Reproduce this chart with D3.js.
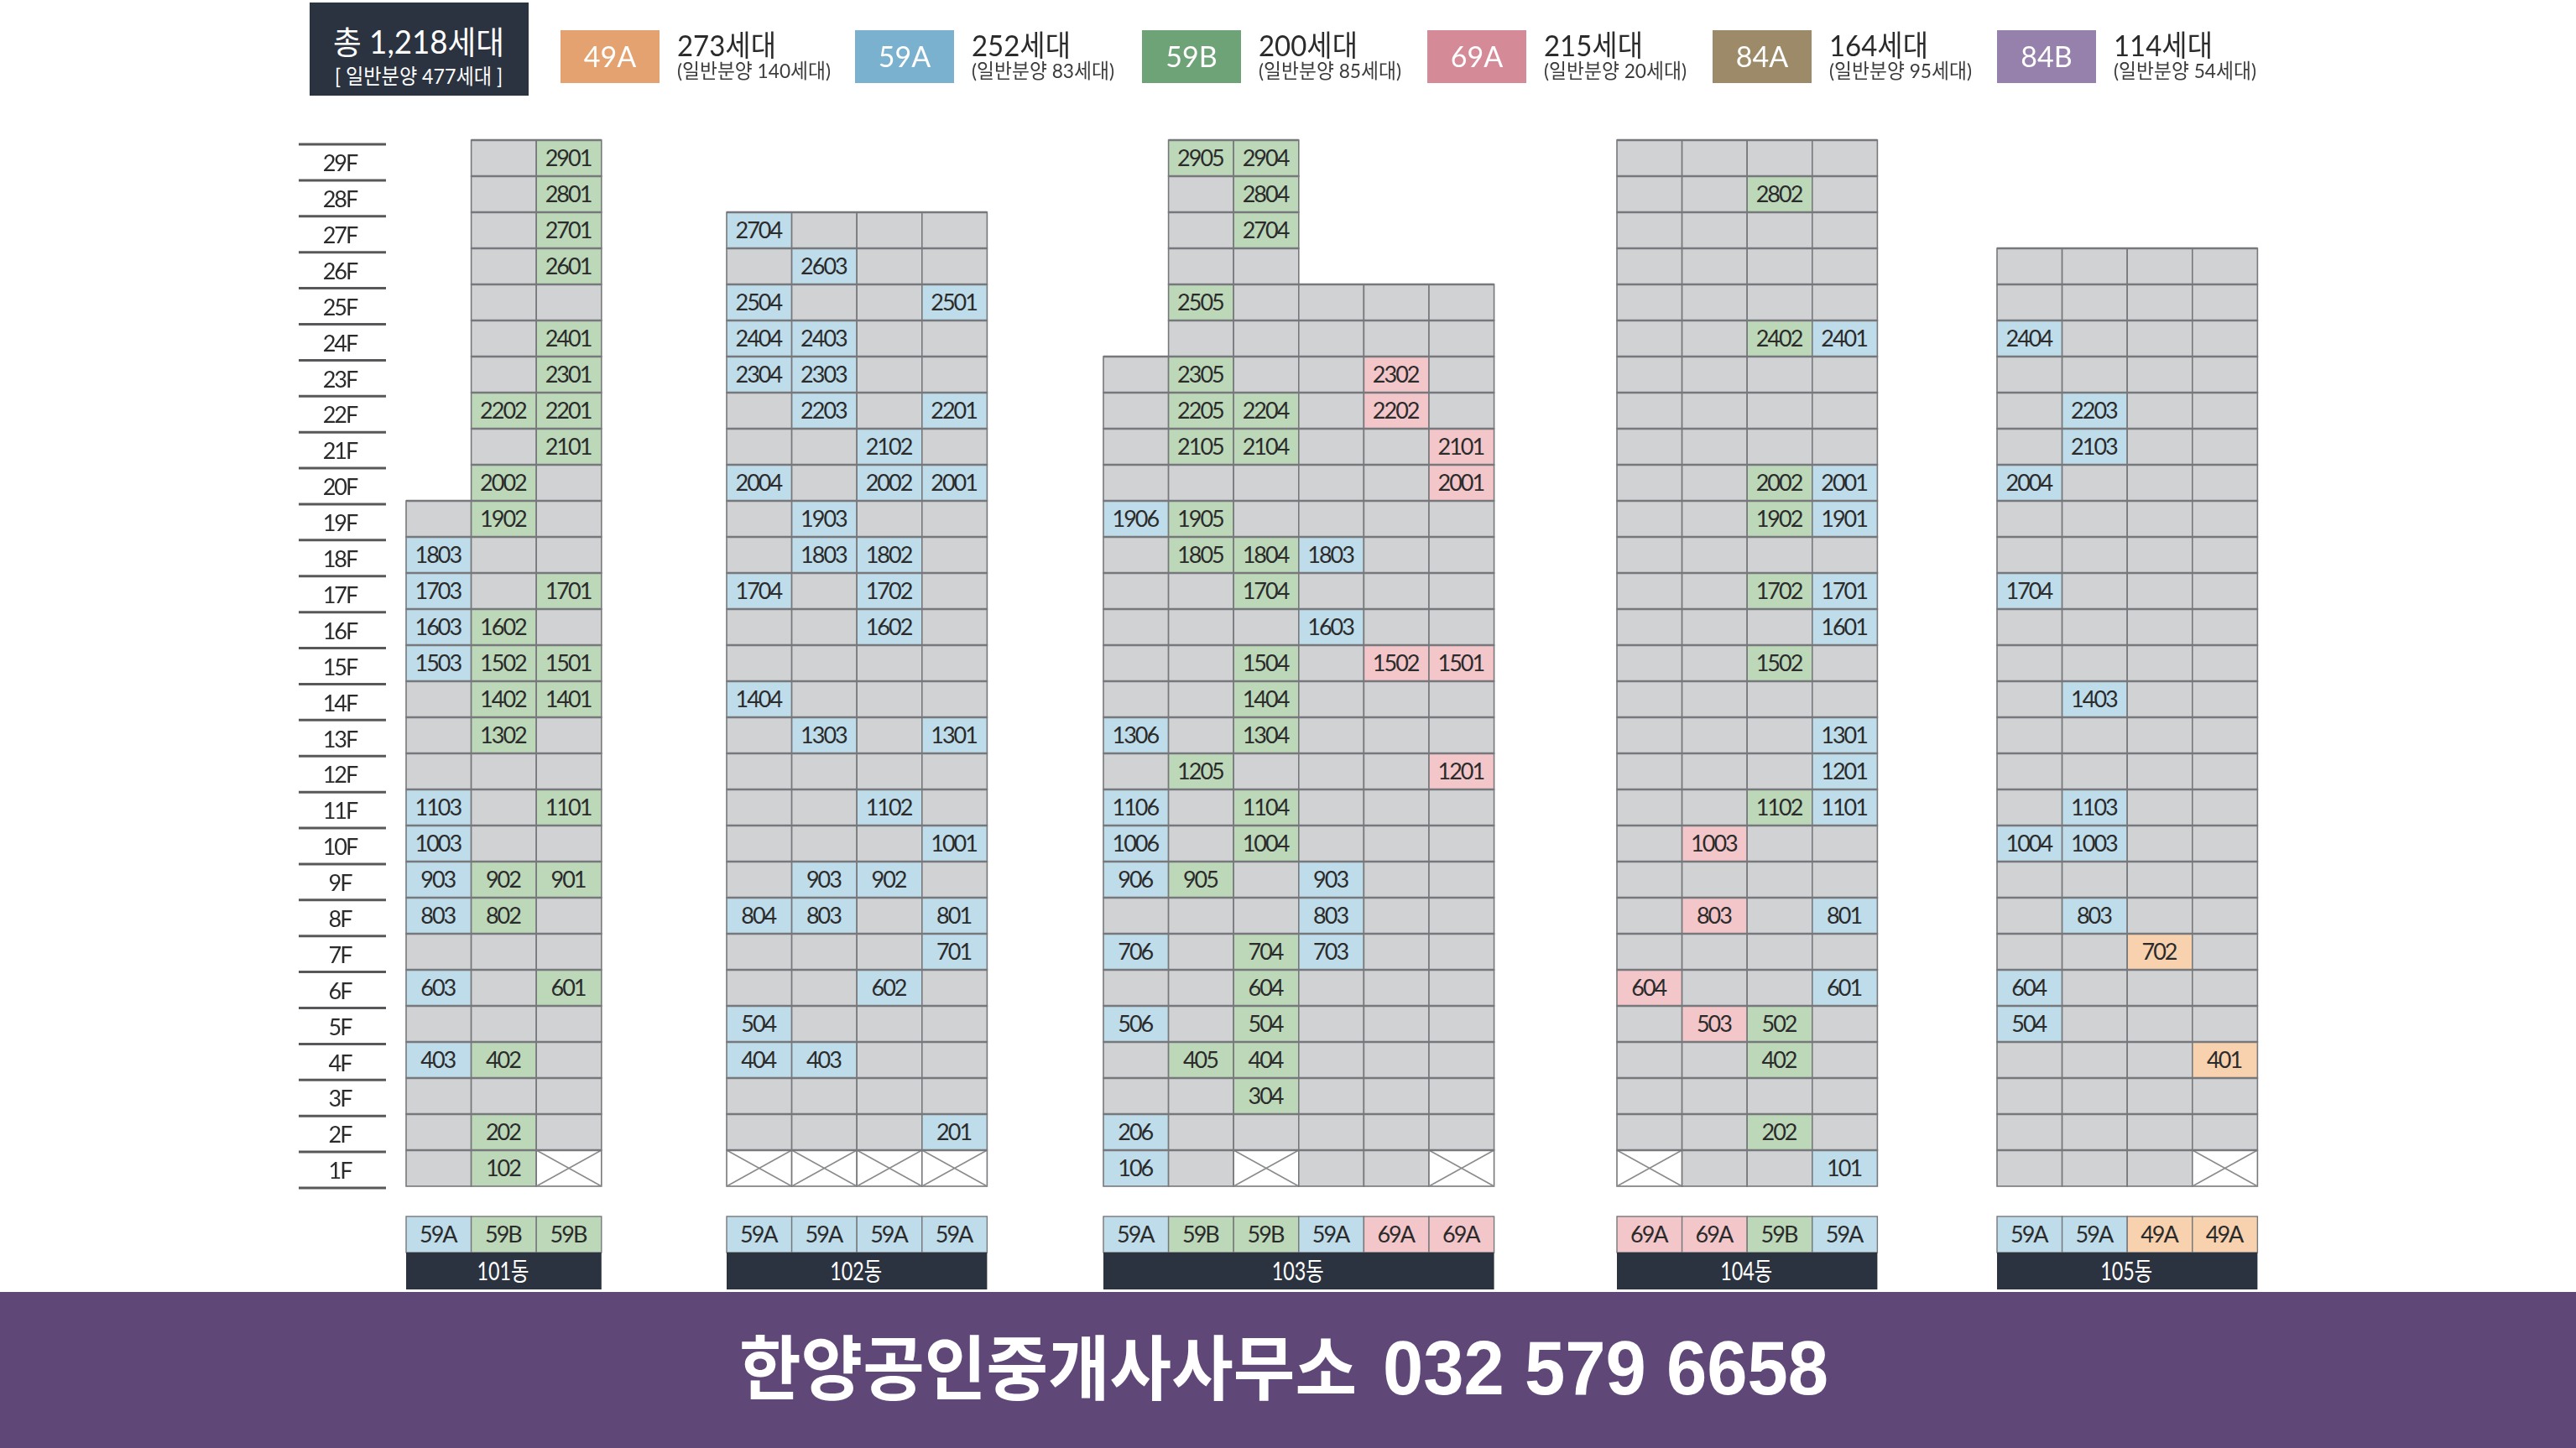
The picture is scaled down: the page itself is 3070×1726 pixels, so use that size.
<!DOCTYPE html>
<html lang="ko">
<head>
<meta charset="utf-8">
<title>동호 배치도</title>
<script src="https://cdn.jsdelivr.net/npm/d3@7"></script>
<style>
    html, body { margin: 0; padding: 0; background: #fff; }
    svg { display: block; }
    text { font-family: Lato, "Noto Sans CJK KR", sans-serif; fill: #2b2b2b; }
</style>
</head>
<body>
<div id="chart"></div>
<script>
// data
const floors = [29, 28, 27, 26, 25, 24, 23, 22, 21, 20, 19, 18, 17, 16, 15, 14, 13, 12, 11, 10, 9, 8, 7, 6, 5, 4, 3, 2, 1];

const legendTypes = ['49A', '59A', '59B', '69A', '84A', '84B'];
const legendCounts = ['273세대', '252세대', '200세대', '215세대', '164세대', '114세대'];
const legendSales = ['(일반분양 140세대)', '(일반분양 83세대)', '(일반분양 85세대)', '(일반분양 20세대)', '(일반분양 95세대)', '(일반분양 54세대)'];

const buildings = ['101동', '102동', '103동', '104동', '105동'];

// line number -> type, left to right as drawn
const lines101 = [3, 2, 1];
const types101 = ['59A', '59B', '59B'];
const tops101 = [19, 29, 29];
const blocked101 = [101];
const units101 = [2901, 2801, 2701, 2601, 2401, 2301, 2202, 2201, 2101, 2002, 1902, 1803, 1703, 1701, 1603, 1602, 1503, 1502, 1501, 1402, 1401, 1302, 1103, 1101, 1003, 903, 902, 901, 803, 802, 603, 601, 403, 402, 202, 102];

const lines102 = [4, 3, 2, 1];
const types102 = ['59A', '59A', '59A', '59A'];
const tops102 = [27, 27, 27, 27];
const blocked102 = [104, 103, 102, 101];
const units102 = [2704, 2603, 2504, 2501, 2404, 2403, 2304, 2303, 2203, 2201, 2102, 2004, 2002, 2001, 1903, 1803, 1802, 1704, 1702, 1602, 1404, 1303, 1301, 1102, 1001, 903, 902, 804, 803, 801, 701, 602, 504, 404, 403, 201];

const lines103 = [6, 5, 4, 3, 2, 1];
const types103 = ['59A', '59B', '59B', '59A', '69A', '69A'];
const tops103 = [23, 29, 29, 25, 25, 25];
const blocked103 = [104, 101];
const units103 = [2905, 2904, 2804, 2704, 2505, 2305, 2302, 2205, 2204, 2202, 2105, 2104, 2101, 2001, 1906, 1905, 1805, 1804, 1803, 1704, 1603, 1504, 1502, 1501, 1404, 1306, 1304, 1205, 1201, 1106, 1104, 1006, 1004, 906, 905, 903, 803, 706, 704, 703, 604, 506, 504, 405, 404, 304, 206, 106];

const lines104 = [4, 3, 2, 1];
const types104 = ['69A', '69A', '59B', '59A'];
const tops104 = [29, 29, 29, 29];
const blocked104 = [104];
const units104 = [2802, 2402, 2401, 2002, 2001, 1902, 1901, 1702, 1701, 1601, 1502, 1301, 1201, 1102, 1101, 1003, 803, 801, 604, 601, 503, 502, 402, 202, 101];

const lines105 = [4, 3, 2, 1];
const types105 = ['59A', '59A', '49A', '49A'];
const tops105 = [26, 26, 26, 26];
const blocked105 = [101];
const units105 = [2404, 2203, 2103, 2004, 1704, 1403, 1103, 1004, 1003, 803, 702, 604, 504, 401];

const blocks = [
    { name: buildings[0], lines: lines101, types: types101, tops: tops101, blocked: blocked101, units: units101 },
    { name: buildings[1], lines: lines102, types: types102, tops: tops102, blocked: blocked102, units: units102 },
    { name: buildings[2], lines: lines103, types: types103, tops: tops103, blocked: blocked103, units: units103 },
    { name: buildings[3], lines: lines104, types: types104, tops: tops104, blocked: blocked104, units: units104 },
    { name: buildings[4], lines: lines105, types: types105, tops: tops105, blocked: blocked105, units: units105 }
];

// layout and colours
const W = 3070, H = 1726;
const DARK = '#2b3340';
const legendColor = d3.scaleOrdinal().domain(legendTypes)
    .range(['#e3a26f', '#7ab1cf', '#6ea378', '#d58b97', '#9c8a69', '#9681ac']);
const cellColor = d3.scaleOrdinal().domain(legendTypes)
    .range(['#f8d2ae', '#bedcea', '#bcd8b9', '#f3c6ca', '#cdbfa5', '#c9bcd8']);
const legendX = [668, 1019, 1361, 1701, 2041, 2380];
const blockX = d3.scaleOrdinal().domain(buildings).range([484, 866, 1315, 1927, 2380]);
const COL_W = 77.6;

const y = d3.scaleBand().domain(floors).range([167, 1414]);
const yRule = d3.scaleBand().domain(floors).range([172, 1416]);

const root = d3.select('#chart').append('svg')
    .attr('width', W)
    .attr('height', H)
    .attr('viewBox', `0 0 ${W} ${H}`);

// the plan comes from an enlarged image, so everything above the footer is a bit soft
const svg = root.append('g').style('filter', 'blur(0.6px)');

// total box
svg.append('rect').attr('x', 369).attr('y', 3).attr('width', 261).attr('height', 111).attr('fill', DARK);
svg.append('text').attr('x', 499).attr('y', 64).attr('text-anchor', 'middle')
    .attr('font-size', 38).style('fill', '#fff')
    .attr('textLength', 204).attr('lengthAdjust', 'spacingAndGlyphs')
    .text('총 1,218세대');
svg.append('text').attr('x', 499).attr('y', 100).attr('text-anchor', 'middle')
    .attr('font-size', 25).style('fill', '#fff')
    .attr('textLength', 200).attr('lengthAdjust', 'spacingAndGlyphs')
    .text('[ 일반분양 477세대 ]');

// legend
const legend = svg.selectAll('.legend').data(legendTypes).enter().append('g')
    .attr('class', 'legend')
    .attr('transform', (d, i) => `translate(${legendX[i]},36)`);
legend.append('rect').attr('width', 118).attr('height', 63)
    .attr('fill', (d) => legendColor(d));
legend.append('text').attr('x', 59).attr('y', 44).attr('text-anchor', 'middle')
    .attr('font-size', 34).style('fill', '#fff')
    .text((d) => d);
legend.append('text').attr('x', 139).attr('y', 31).attr('font-size', 35)
    .attr('textLength', 118).attr('lengthAdjust', 'spacingAndGlyphs')
    .text((d, i) => legendCounts[i]);
legend.append('text').attr('x', 139).attr('y', 57).attr('font-size', 24).style('fill', '#3c3c3c')
    .attr('textLength', (d, i) => (i === 0 ? 183 : 170)).attr('lengthAdjust', 'spacingAndGlyphs')
    .text((d, i) => legendSales[i]);

// floor labels
const floorAxis = svg.append('g').attr('class', 'floor-axis')
    .attr('transform', 'translate(405,1)')
    .call(d3.axisLeft(yRule).tickSize(0).tickPadding(0).tickFormat((d) => `${d}F`));
floorAxis.select('.domain').remove();
floorAxis.selectAll('text')
    .attr('x', 0).attr('dy', '0.36em')
    .attr('text-anchor', 'middle')
    .attr('font-size', 27)
    .attr('letter-spacing', -2)
    .style('font-family', 'Lato')
    .style('fill', '#2b2b2b');
svg.selectAll('.floor-rule').data([...floors, 0]).enter().append('line')
    .attr('class', 'floor-rule')
    .attr('x1', 356).attr('x2', 460)
    .attr('y1', (d) => (d ? yRule(d) : yRule(1) + yRule.bandwidth()))
    .attr('y2', (d) => (d ? yRule(d) : yRule(1) + yRule.bandwidth()))
    .attr('stroke', '#58585a').attr('stroke-width', 3);

// one group per building
blocks.forEach((block) => {
    const x0 = blockX(block.name);
    const width = COL_W * block.lines.length;
    const x = d3.scaleBand().domain(block.lines).range([x0, x0 + width]);
    const typeOf = (line) => block.types[block.lines.indexOf(line)];

    const cells = [];
    block.lines.forEach((line, i) => {
        floors.filter((f) => f <= block.tops[i]).forEach((f) => {
            const unit = f * 100 + line;
            cells.push({
                unit: unit,
                floor: f,
                line: line,
                sold: block.units.includes(unit),
                blocked: block.blocked.includes(unit)
            });
        });
    });

    const g = svg.append('g').attr('class', 'block');
    const cell = g.selectAll('.cell').data(cells).enter().append('g')
        .attr('class', 'cell')
        .attr('transform', (d) => `translate(${x(d.line)},${y(d.floor)})`);

    cell.append('rect')
        .attr('width', x.bandwidth())
        .attr('height', y.bandwidth())
        .attr('fill', (d) => {
            if (d.blocked) return '#fff';
            return d.sold ? cellColor(typeOf(d.line)) : '#d1d2d4';
        })
        .attr('stroke', '#77787b')
        .attr('stroke-width', 1.6);

    cell.filter((d) => d.blocked).append('path')
        .attr('d', `M0,0L${x.bandwidth()},${y.bandwidth()}M${x.bandwidth()},0L0,${y.bandwidth()}`)
        .attr('stroke', '#8a8b8d')
        .attr('stroke-width', 1.6);

    // heavier floor lines, as in the source plan
    cell.append('line')
        .attr('x2', x.bandwidth())
        .attr('stroke', '#77787b')
        .attr('stroke-width', 2.4);

    cell.filter((d) => d.sold).append('text')
        .attr('x', x.bandwidth() / 2 - 1)
        .attr('y', y.bandwidth() / 2)
        .attr('dy', '0.36em')
        .attr('text-anchor', 'middle')
        .attr('font-size', 27)
        .attr('letter-spacing', -2)
        .text((d) => d.unit);

    // type row
    const typeRow = g.selectAll('.type').data(block.lines).enter().append('g')
        .attr('class', 'type')
        .attr('transform', (d) => `translate(${x(d)},1450)`);
    typeRow.append('rect')
        .attr('width', x.bandwidth())
        .attr('height', 43)
        .attr('fill', (d) => cellColor(typeOf(d)))
        .attr('stroke', '#77787b')
        .attr('stroke-width', 1.4);
    typeRow.append('text')
        .attr('x', x.bandwidth() / 2 - 1)
        .attr('y', 21.5)
        .attr('dy', '0.36em')
        .attr('text-anchor', 'middle')
        .attr('font-size', 27)
        .attr('letter-spacing', -2)
        .text((d) => typeOf(d));

    // building name
    g.append('rect')
        .attr('x', x0).attr('y', 1493)
        .attr('width', width).attr('height', 44)
        .attr('fill', DARK);
    g.append('text')
        .attr('x', x0 + width / 2 - 1).attr('y', 1526)
        .attr('text-anchor', 'middle')
        .attr('font-size', 30)
        .attr('textLength', 62).attr('lengthAdjust', 'spacingAndGlyphs')
        .style('fill', '#fff')
        .text(block.name);
});

// footer band
root.append('rect').attr('x', 0).attr('y', 1540).attr('width', W).attr('height', H - 1540).attr('fill', '#5f4878');
root.append('text').attr('x', 881).attr('y', 1662)
    .attr('font-size', 84)
    .attr('font-weight', 700)
    .attr('textLength', 736).attr('lengthAdjust', 'spacingAndGlyphs')
    .style('font-family', '"Noto Sans CJK KR", sans-serif')
    .style('fill', '#fff')
    .text('한양공인중개사사무소');
root.append('text').attr('x', 1648).attr('y', 1662)
    .attr('font-size', 90)
    .attr('font-weight', 700)
    .attr('textLength', 531).attr('lengthAdjust', 'spacingAndGlyphs')
    .style('font-family', '"Liberation Sans", sans-serif')
    .style('fill', '#fff')
    .text('032 579 6658');
</script>
</body>
</html>
